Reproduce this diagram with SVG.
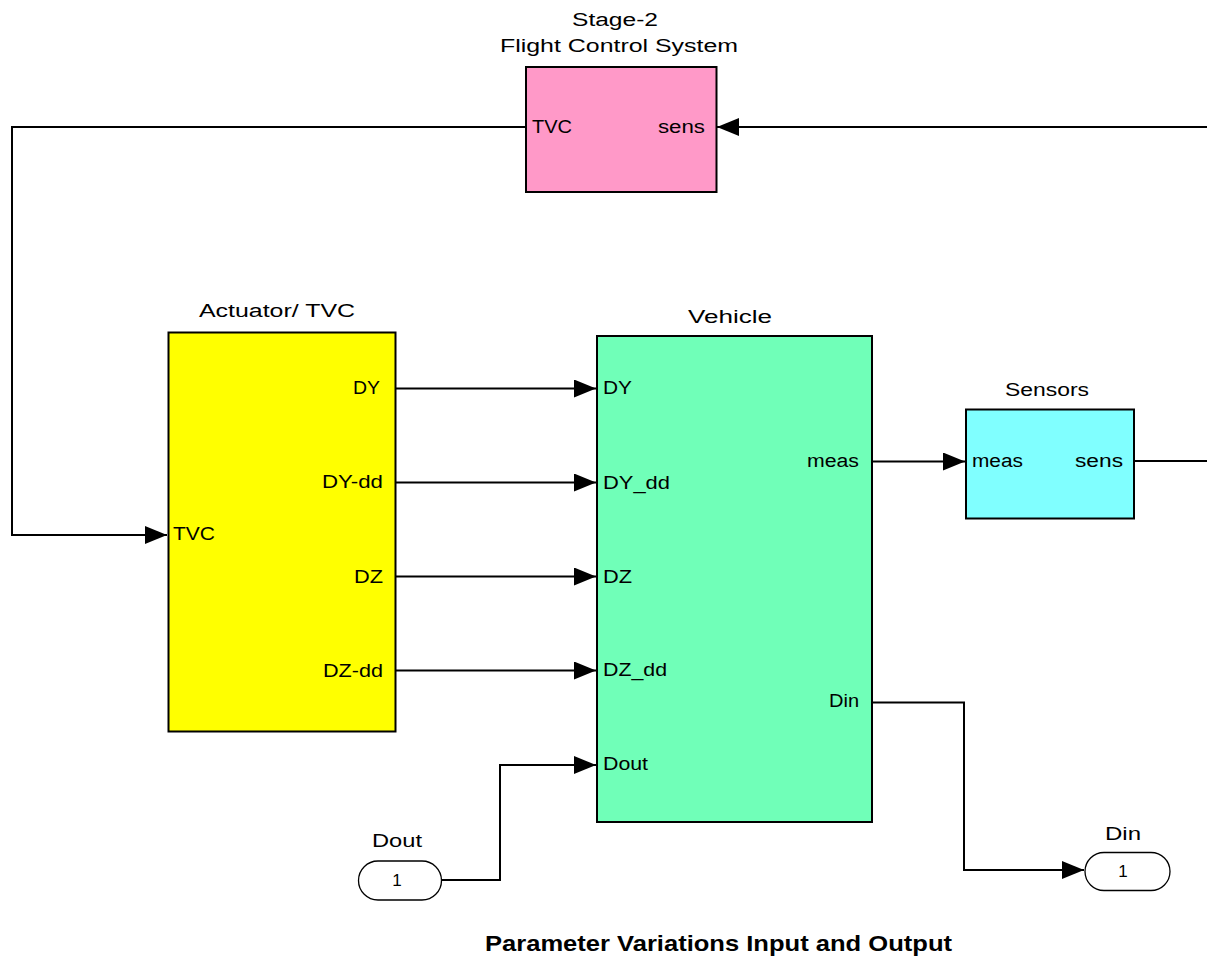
<svg xmlns="http://www.w3.org/2000/svg" width="1207" height="957" viewBox="0 0 1207 957">
<style>
text{font-family:"Liberation Sans",Arial,sans-serif;fill:#000;}
.lbl{font-size:18px;}
.ttl{font-size:18px;}
.blk{stroke:#000;stroke-width:2;}
.wire{fill:none;stroke:#000;stroke-width:2;}
.port{fill:#fff;stroke:#000;stroke-width:1.3;}
.one{font-size:17px;}
.cap{font-size:22px;font-weight:bold;}
</style>
<defs>
<marker id="arr" markerUnits="userSpaceOnUse" markerWidth="22" markerHeight="18" refX="22" refY="9" orient="auto">
<path d="M0,0 L22,9 L0,18 z" fill="#000"/>
</marker>
</defs>
<rect width="1207" height="957" fill="#fff"/>

<g id="connectors">
<polyline class="wire" points="526,127 12,127 12,535 167,535" marker-end="url(#arr)"/>
<line class="wire" x1="1207" y1="127" x2="717" y2="127" marker-end="url(#arr)"/>
<line class="wire" x1="396" y1="388.5" x2="596" y2="388.5" marker-end="url(#arr)"/>
<line class="wire" x1="396" y1="482.5" x2="596" y2="482.5" marker-end="url(#arr)"/>
<line class="wire" x1="396" y1="576.5" x2="596" y2="576.5" marker-end="url(#arr)"/>
<line class="wire" x1="396" y1="670.5" x2="596" y2="670.5" marker-end="url(#arr)"/>
<polyline class="wire" points="442,880 500,880 500,765 596,765" marker-end="url(#arr)"/>
<line class="wire" x1="872" y1="461.5" x2="965" y2="461.5" marker-end="url(#arr)"/>
<line class="wire" x1="1134" y1="461" x2="1207" y2="461"/>
<polyline class="wire" points="872,702.5 964,702.5 964,870 1084,870" marker-end="url(#arr)"/>
</g>

<g id="fcs">
<text class="ttl" x="615" y="26" text-anchor="middle" textLength="86" lengthAdjust="spacingAndGlyphs">Stage-2</text>
<text class="ttl" x="619" y="52" text-anchor="middle" textLength="238" lengthAdjust="spacingAndGlyphs">Flight Control System</text>
<rect class="blk" x="526" y="67" width="190.5" height="125" fill="#FF99C8"/>
<text class="lbl" x="532" y="133" textLength="40" lengthAdjust="spacingAndGlyphs">TVC</text>
<text class="lbl" x="658" y="133" textLength="47" lengthAdjust="spacingAndGlyphs">sens</text>
</g>

<g id="actuator">
<text class="ttl" x="277" y="317" text-anchor="middle" textLength="156" lengthAdjust="spacingAndGlyphs">Actuator/ TVC</text>
<rect class="blk" x="168.5" y="332.5" width="227" height="399" fill="#FFFF00"/>
<text class="lbl" x="353" y="394" textLength="27" lengthAdjust="spacingAndGlyphs">DY</text>
<text class="lbl" x="322" y="488" textLength="61" lengthAdjust="spacingAndGlyphs">DY-dd</text>
<text class="lbl" x="173" y="540" textLength="42" lengthAdjust="spacingAndGlyphs">TVC</text>
<text class="lbl" x="354" y="582.5" textLength="29" lengthAdjust="spacingAndGlyphs">DZ</text>
<text class="lbl" x="323" y="676.5" textLength="60" lengthAdjust="spacingAndGlyphs">DZ-dd</text>
</g>

<g id="vehicle">
<text class="ttl" x="730" y="322.5" text-anchor="middle" textLength="84" lengthAdjust="spacingAndGlyphs">Vehicle</text>
<rect class="blk" x="597" y="336" width="275" height="486" fill="#70FFB8"/>
<text class="lbl" x="603" y="394" textLength="29" lengthAdjust="spacingAndGlyphs">DY</text>
<text class="lbl" x="603" y="488.5" textLength="67" lengthAdjust="spacingAndGlyphs">DY_dd</text>
<text class="lbl" x="603" y="582.5" textLength="29" lengthAdjust="spacingAndGlyphs">DZ</text>
<text class="lbl" x="603" y="676" textLength="64" lengthAdjust="spacingAndGlyphs">DZ_dd</text>
<text class="lbl" x="603" y="770" textLength="45" lengthAdjust="spacingAndGlyphs">Dout</text>
<text class="lbl" x="807" y="467" textLength="52" lengthAdjust="spacingAndGlyphs">meas</text>
<text class="lbl" x="829" y="707" textLength="30" lengthAdjust="spacingAndGlyphs">Din</text>
</g>

<g id="sensors">
<text class="ttl" x="1047" y="396" text-anchor="middle" textLength="84" lengthAdjust="spacingAndGlyphs">Sensors</text>
<rect class="blk" x="966" y="409.5" width="168" height="109" fill="#80FFFF"/>
<text class="lbl" x="972" y="467" textLength="51" lengthAdjust="spacingAndGlyphs">meas</text>
<text class="lbl" x="1075" y="467" textLength="48" lengthAdjust="spacingAndGlyphs">sens</text>
</g>

<g id="dout-inport">
<text class="ttl" x="397" y="847" text-anchor="middle" textLength="50" lengthAdjust="spacingAndGlyphs">Dout</text>
<rect class="port" x="358.5" y="861" width="83" height="39" rx="19.5"/>
<text class="one" x="397" y="886" text-anchor="middle">1</text>
</g>

<g id="din-outport">
<text class="ttl" x="1123" y="839.5" text-anchor="middle" textLength="36" lengthAdjust="spacingAndGlyphs">Din</text>
<rect class="port" x="1085" y="852.5" width="85" height="38" rx="19"/>
<text class="one" x="1123" y="877" text-anchor="middle">1</text>
</g>

<g id="caption">
<text class="cap" x="485" y="951" textLength="467" lengthAdjust="spacingAndGlyphs">Parameter Variations Input and Output</text>
</g>
</svg>
